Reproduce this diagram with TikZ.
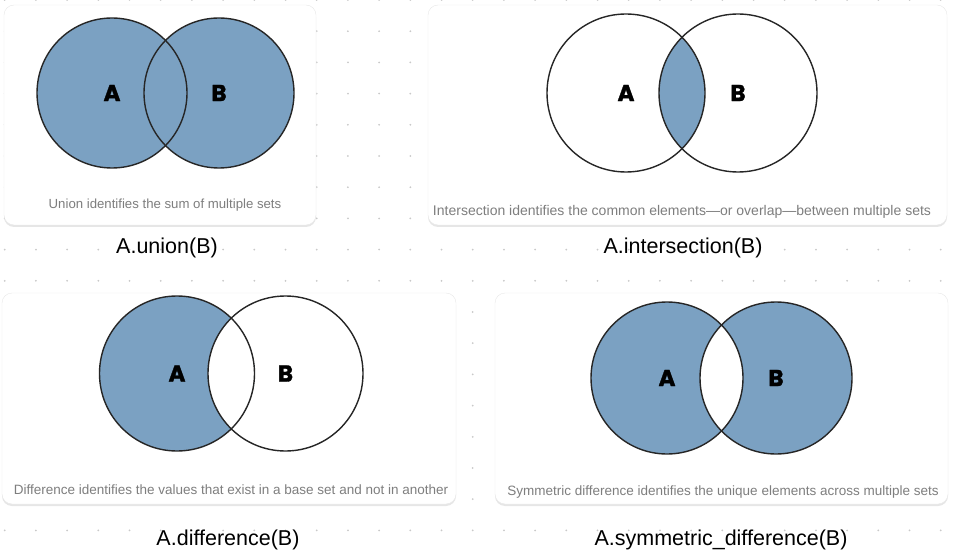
\documentclass[tikz,border=0pt]{standalone}
\usepackage{fontspec}
\setmainfont{Liberation Sans}
\newfontfamily\vennfont[FakeBold=1.5]{Poppins}
\usepackage{tikz}
\usetikzlibrary{calc}
\usetikzlibrary{shadows}
\definecolor{vennblue}{HTML}{7BA1C2}
\definecolor{venngray}{HTML}{7E7E7E}
\definecolor{dotgray}{HTML}{C9C9C9}
\tikzset{
card/.style = {fill=white,
        draw=black!9,
        rounded corners=10pt,
        drop shadow={shadow xshift=0pt, shadow yshift=-2pt, opacity=0.2}
            },
ring/.style = {draw=black!85,
        line width=1.4pt
            },
setname/.style = {font=\vennfont\bfseries\fontsize{23}{23}\selectfont},
caption/.style = {text=venngray},
method/.style = {font=\fontsize{21.5}{22}\selectfont}
        }

\begin{document}
\begin{tikzpicture}[x=1pt,y=-1pt]

\useasboundingbox (0,0) rectangle (953,556);

%%% Dotted background:

\foreach \i in {0,...,30}
  \foreach \j in {0,...,17}
    \fill[dotgray] ({4.7+31.2*\i},{31.2*\j}) circle (1pt);

%%% Defining points:

\coordinate (AU) at (112,93);
\coordinate (BU) at (219,93);
\coordinate (AI) at (626,93);
\coordinate (BI) at (738,93);
\coordinate (AD) at (177,373.5);
\coordinate (BD) at (285.5,373.5);
\coordinate (AS) at (667,378);
\coordinate (BS) at (776,378);

%%% Cards:

\draw[card] (4,5) rectangle (316,225);
\draw[card] (428,5) rectangle (947,225);
\draw[card] (2,293) rectangle (456,504);
\draw[card] (495,293) rectangle (948,504);

%%% Union:

\fill[
     vennblue,
     ]
     (AU) circle (75)
     (BU) circle (75);

\draw[ring] (AU) circle (75);
\draw[ring] (BU) circle (75);

%%% Intersection:

\begin{scope}
\clip (AI) circle (79);
\fill[
     vennblue,
     ]
     (BI) circle (79);
\end{scope}

\draw[ring] (AI) circle (79);
\draw[ring] (BI) circle (79);

%%% Difference:

\fill[
     vennblue,
     ]
     (AD) circle (77.5);

\begin{scope}
\clip (AD) circle (77.5);
\fill[
     white,
     ]
     (BD) circle (77.5);
\end{scope}

\draw[ring] (AD) circle (77.5);
\draw[ring] (BD) circle (77.5);

%%% Symmetric difference:

\fill[
     vennblue,
     even odd rule,
     ]
     (AS) circle (76)
     (BS) circle (76);

\draw[ring] (AS) circle (76);
\draw[ring] (BS) circle (76);

%%% Set names:

\node[setname] (nAU) at (AU) {A};
\node[setname] (nBU) at (BU) {B};
\node[setname] (nAI) at (AI) {A};
\node[setname] (nBI) at (BI) {B};
\node[setname] (nAD) at (AD) {A};
\node[setname] (nBD) at (BD) {B};
\node[setname] (nAS) at (AS) {A};
\node[setname] (nBS) at (BS) {B};

%%% Captions:

\node[caption, font=\fontsize{13.2}{13}\selectfont] (capU) at (165,205)
     {Union identifies the sum of multiple sets};
\node[caption, font=\fontsize{14}{13}\selectfont] (capI) at (682,212)
     {Intersection identifies the common elements---or overlap---between multiple sets};
\node[caption, font=\fontsize{13.5}{13}\selectfont] (capD) at (231,490)
     {Difference identifies the values that exist in a base set and not in another};
\node[caption, font=\fontsize{13.5}{13}\selectfont] (capS) at (723,492)
     {Symmetric difference identifies the unique elements across multiple sets};

%%% Method names:

\node[method] (mU) at (167,248) {A.union(B)};
\node[method] (mI) at (683,248) {A.intersection(B)};
\node[method] (mD) at (228,540) {A.difference(B)};
\node[method] (mS) at (721,540) {A.symmetric\_difference(B)};

\end{tikzpicture}
\end{document}
